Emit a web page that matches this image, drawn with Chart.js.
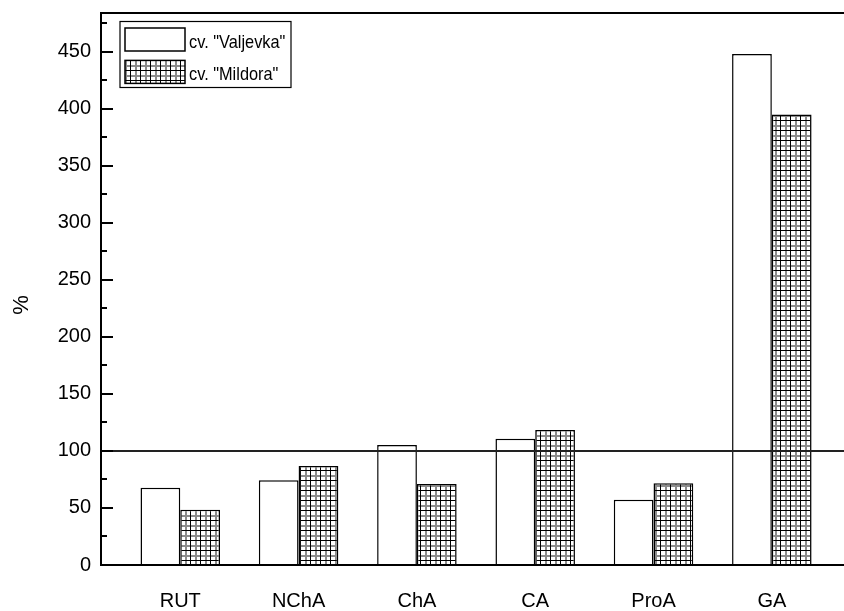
<!DOCTYPE html>
<html>
<head>
<meta charset="utf-8">
<script src="https://cdn.jsdelivr.net/npm/chart.js@4.4.1/dist/chart.umd.min.js"></script>
<style>
  html, body { margin: 0; padding: 0; background: #fff; }
  #wrap { width: 844px; height: 611px; }
</style>
</head>
<body>
<div id="wrap"><canvas id="c" width="844" height="611"></canvas></div>
<script>
// Relative content (%) of phenolic compounds for the two cultivars
const categories = ['RUT', 'NChA', 'ChA', 'CA', 'ProA', 'GA'];
const valjevka = [67.8, 74.3, 105.2, 110.7, 57.3, 448.0];
const mildora = [48.5, 86.8, 71.0, 118.3, 71.6, 395.1];
const seriesNames = ['cv. "Valjevka"', 'cv. "Mildora"'];
const yTicks = [0, 50, 100, 150, 200, 250, 300, 350, 400, 450];
const yMinorStep = 25;
const controlLevel = 100;
const yTitle = '%';

const FONT = '"Liberation Sans", Arial, Helvetica, sans-serif';
Chart.defaults.font.family = FONT;
Chart.defaults.color = '#000';

const canvas = document.getElementById('c');
const ctx = canvas.getContext('2d');

// cross-hatch fill used for the second cultivar
function gridPattern() {
  const p = document.createElement('canvas');
  p.width = 10; p.height = 10;
  const g = p.getContext('2d');
  g.fillStyle = '#fff';
  g.fillRect(0, 0, 10, 10);
  g.fillStyle = '#8c8c8c';
  g.fillRect(5, 0, 2, 10);
  g.fillRect(0, 5, 10, 2);
  g.fillStyle = '#000';
  g.fillRect(0, 0, 1, 10);
  g.fillRect(0, 0, 10, 1);
  return ctx.createPattern(p, 'repeat');
}
const hatch = gridPattern();

// axis frame, inward ticks, title and the 100 % line
const framePlugin = {
  id: 'frame',
  afterDatasetsDraw(chart) {
    const c = chart.ctx;
    const a = chart.chartArea;
    const y = chart.scales.y;
    c.save();
    // control level line
    c.strokeStyle = '#222';
    c.lineWidth = 2;
    const ly = y.getPixelForValue(controlLevel);
    c.beginPath();
    c.moveTo(a.left, ly);
    c.lineTo(a.right, ly);
    c.stroke();
    // frame lines
    c.strokeStyle = '#000';
    c.lineWidth = 2;
    c.beginPath();
    c.moveTo(a.left, a.top);
    c.lineTo(a.right, a.top);
    c.moveTo(a.left, a.bottom);
    c.lineTo(a.right, a.bottom);
    c.moveTo(a.left, a.top - 1);
    c.lineTo(a.left, a.bottom + 1);
    c.stroke();
    // inward ticks
    c.lineWidth = 2;
    c.beginPath();
    for (let v = y.min; v <= y.max; v += yMinorStep) {
      const py = Math.round(y.getPixelForValue(v));
      const len = yTicks.includes(v) ? 12 : 6;
      c.moveTo(a.left, py);
      c.lineTo(a.left + len, py);
    }
    c.stroke();
    // axis title
    c.fillStyle = '#000';
    c.font = '22px ' + FONT;
    c.textAlign = 'center';
    c.textBaseline = 'middle';
    c.translate(a.left - 79, (a.top + a.bottom) / 2 + 16);
    c.rotate(-Math.PI / 2);
    c.fillText(yTitle, 0, 0);
    c.restore();
  }
};

// boxed legend inside the plot area
const legendPlugin = {
  id: 'boxLegend',
  afterDraw(chart) {
    const c = chart.ctx;
    const a = chart.chartArea;
    const bx = a.left + 19, by = a.top + 8.5, bw = 171, bh = 66;
    c.save();
    c.fillStyle = '#fff';
    c.fillRect(bx, by, bw, bh);
    c.strokeStyle = '#000';
    c.lineWidth = 1.2;
    c.strokeRect(bx, by, bw, bh);
    c.font = '19px ' + FONT;
    c.textAlign = 'left';
    c.textBaseline = 'alphabetic';
    chart.data.datasets.forEach((ds, i) => {
      const sx = bx + 5, sy = by + 6.5 + i * 32.4, sw = 60, sh = 23;
      c.fillStyle = ds.backgroundColor;
      c.fillRect(sx, sy, sw, sh);
      c.lineWidth = 1.5;
      c.strokeRect(sx, sy, sw, sh);
      c.fillStyle = '#000';
      c.save();
      c.translate(bx + 69, sy + 19.5);
      c.scale(0.86, 1);
      c.fillText(ds.label, 0, 0);
      c.restore();
    });
    c.restore();
  }
};

new Chart(ctx, {
  type: 'bar',
  data: {
    datasets: [
      {
        label: seriesNames[0],
        data: valjevka.map((v, i) => ({ x: i + 1, y: v })),
        backgroundColor: '#fff',
        borderColor: '#000',
        borderWidth: 1.5,
        categoryPercentage: 0.672,
        barPercentage: 1.0
      },
      {
        label: seriesNames[1],
        data: mildora.map((v, i) => ({ x: i + 1, y: v })),
        backgroundColor: hatch,
        borderColor: '#000',
        borderWidth: 1.5,
        categoryPercentage: 0.672,
        barPercentage: 1.0
      }
    ]
  },
  options: {
    responsive: false,
    animation: false,
    devicePixelRatio: 1,
    layout: { padding: { top: 13, right: 0, left: 0, bottom: 0 } },
    plugins: { legend: { display: false }, tooltip: { enabled: false } },
    scales: {
      x: {
        type: 'linear',
        offset: false,
        min: 0.33,
        max: 6.61,
        grid: { display: false, drawTicks: false, offset: false },
        border: { display: false },
        afterBuildTicks: s => { s.ticks = categories.map((c, i) => ({ value: i + 1 })); },
        ticks: {
          callback: v => categories[v - 1] ?? '',
          font: { size: 20 },
          color: '#000',
          padding: 24,
          autoSkip: false,
          maxRotation: 0
        },
        afterFit: s => { s.height = 46; s.paddingLeft = 0; s.paddingRight = 0; }
      },
      y: {
        min: 0,
        max: 484,
        grid: { display: false, drawTicks: false },
        border: { display: false },
        afterBuildTicks: s => { s.ticks = yTicks.map(v => ({ value: v })); },
        ticks: { font: { size: 20 }, color: '#000', padding: 10 },
        afterFit: s => { s.width = 101; s.paddingTop = 0; s.paddingBottom = 0; }
      }
    }
  },
  plugins: [framePlugin, legendPlugin]
});
</script>
</body>
</html>
